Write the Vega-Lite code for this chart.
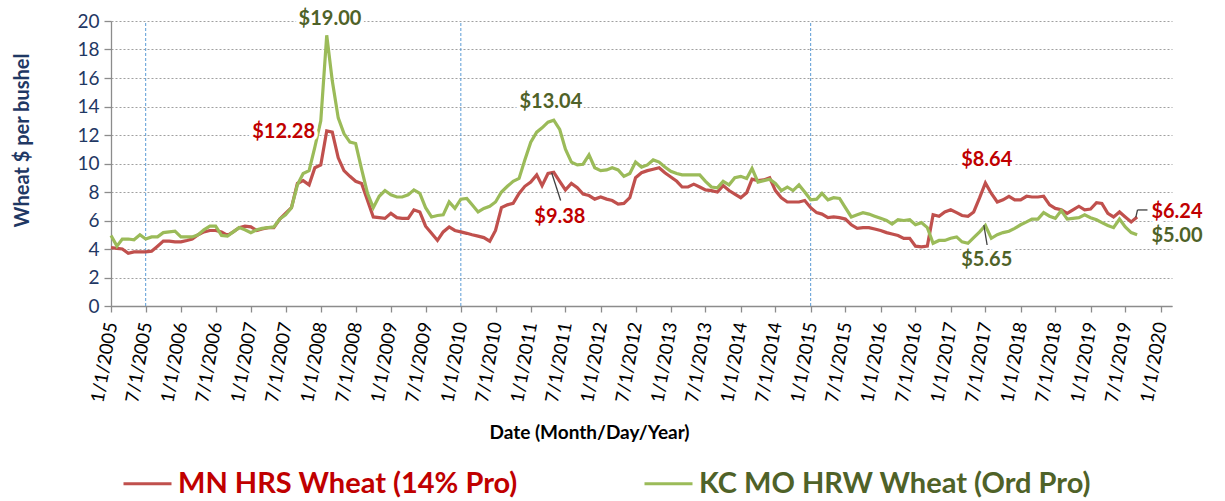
{
  "$schema": "https://vega.github.io/schema/vega-lite/v6.json",
  "width": 1061,
  "height": 285,
  "autosize": {"type": "none"},
  "padding": {"left": 111, "top": 21, "right": 53, "bottom": 195},
  "background": "white",
  "config": {
    "view": {"stroke": null},
    "font": "Lato"
  },
  "datasets": {
    "prices": [
      {"date":"2005-01-01","MN":4.1,"KC":4.95},{"date":"2005-02-01","MN":4.05,"KC":4.2},{"date":"2005-03-01","MN":4.0,"KC":4.7},{"date":"2005-04-01","MN":3.7,"KC":4.7},{"date":"2005-05-01","MN":3.8,"KC":4.65},{"date":"2005-06-01","MN":3.8,"KC":5.0},{"date":"2005-07-01","MN":3.8,"KC":4.7},{"date":"2005-08-01","MN":3.85,"KC":4.85},{"date":"2005-09-01","MN":4.2,"KC":4.85},{"date":"2005-10-01","MN":4.55,"KC":5.15},{"date":"2005-11-01","MN":4.55,"KC":5.2},{"date":"2005-12-01","MN":4.5,"KC":5.25},
      {"date":"2006-01-01","MN":4.5,"KC":4.85},{"date":"2006-02-01","MN":4.6,"KC":4.85},{"date":"2006-03-01","MN":4.7,"KC":4.85},{"date":"2006-04-01","MN":5.0,"KC":5.0},{"date":"2006-05-01","MN":5.2,"KC":5.35},{"date":"2006-06-01","MN":5.3,"KC":5.6},{"date":"2006-07-01","MN":5.3,"KC":5.6},{"date":"2006-08-01","MN":5.2,"KC":4.95},{"date":"2006-09-01","MN":4.95,"KC":4.9},{"date":"2006-10-01","MN":5.2,"KC":5.2},{"date":"2006-11-01","MN":5.5,"KC":5.5},{"date":"2006-12-01","MN":5.6,"KC":5.35},
      {"date":"2007-01-01","MN":5.55,"KC":5.15},{"date":"2007-02-01","MN":5.3,"KC":5.35},{"date":"2007-03-01","MN":5.4,"KC":5.45},{"date":"2007-04-01","MN":5.5,"KC":5.5},{"date":"2007-05-01","MN":5.5,"KC":5.55},{"date":"2007-06-01","MN":6.1,"KC":6.1},{"date":"2007-07-01","MN":6.5,"KC":6.4},{"date":"2007-08-01","MN":6.9,"KC":6.9},{"date":"2007-09-01","MN":8.6,"KC":8.5},{"date":"2007-10-01","MN":8.8,"KC":9.3},{"date":"2007-11-01","MN":8.5,"KC":9.5},{"date":"2007-12-01","MN":9.7,"KC":11.15},
      {"date":"2008-01-01","MN":9.9,"KC":13.0},{"date":"2008-02-01","MN":12.28,"KC":19.0},{"date":"2008-03-01","MN":12.2,"KC":15.8},{"date":"2008-04-01","MN":10.4,"KC":13.2},{"date":"2008-05-01","MN":9.5,"KC":12.1},{"date":"2008-06-01","MN":9.1,"KC":11.5},{"date":"2008-07-01","MN":8.75,"KC":11.4},{"date":"2008-08-01","MN":8.6,"KC":9.6},{"date":"2008-09-01","MN":7.4,"KC":7.9},{"date":"2008-10-01","MN":6.25,"KC":6.9},{"date":"2008-11-01","MN":6.2,"KC":7.7},{"date":"2008-12-01","MN":6.15,"KC":8.1},
      {"date":"2009-01-01","MN":6.5,"KC":7.8},{"date":"2009-02-01","MN":6.2,"KC":7.65},{"date":"2009-03-01","MN":6.15,"KC":7.65},{"date":"2009-04-01","MN":6.15,"KC":7.8},{"date":"2009-05-01","MN":6.75,"KC":8.15},{"date":"2009-06-01","MN":6.6,"KC":7.9},{"date":"2009-07-01","MN":5.6,"KC":6.9},{"date":"2009-08-01","MN":5.1,"KC":6.25},{"date":"2009-09-01","MN":4.6,"KC":6.35},{"date":"2009-10-01","MN":5.2,"KC":6.4},{"date":"2009-11-01","MN":5.55,"KC":7.3},{"date":"2009-12-01","MN":5.3,"KC":6.85},
      {"date":"2010-01-01","MN":5.2,"KC":7.5},{"date":"2010-02-01","MN":5.1,"KC":7.55},{"date":"2010-03-01","MN":5.0,"KC":7.1},{"date":"2010-04-01","MN":4.9,"KC":6.6},{"date":"2010-05-01","MN":4.8,"KC":6.85},{"date":"2010-06-01","MN":4.55,"KC":7.0},{"date":"2010-07-01","MN":5.3,"KC":7.3},{"date":"2010-08-01","MN":6.9,"KC":8.0},{"date":"2010-09-01","MN":7.1,"KC":8.4},{"date":"2010-10-01","MN":7.2,"KC":8.75},{"date":"2010-11-01","MN":7.9,"KC":8.95},{"date":"2010-12-01","MN":8.4,"KC":10.25},
      {"date":"2011-01-01","MN":8.7,"KC":11.5},{"date":"2011-02-01","MN":9.2,"KC":12.2},{"date":"2011-03-01","MN":8.45,"KC":12.5},{"date":"2011-04-01","MN":9.3,"KC":12.9},{"date":"2011-05-01","MN":9.38,"KC":13.04},{"date":"2011-06-01","MN":8.75,"KC":12.4},{"date":"2011-07-01","MN":8.15,"KC":11.0},{"date":"2011-08-01","MN":8.6,"KC":10.1},{"date":"2011-09-01","MN":8.3,"KC":9.9},{"date":"2011-10-01","MN":7.85,"KC":9.95},{"date":"2011-11-01","MN":7.75,"KC":10.6},{"date":"2011-12-01","MN":7.5,"KC":9.7},
      {"date":"2012-01-01","MN":7.65,"KC":9.5},{"date":"2012-02-01","MN":7.5,"KC":9.55},{"date":"2012-03-01","MN":7.4,"KC":9.7},{"date":"2012-04-01","MN":7.15,"KC":9.55},{"date":"2012-05-01","MN":7.2,"KC":9.1},{"date":"2012-06-01","MN":7.6,"KC":9.3},{"date":"2012-07-01","MN":9.0,"KC":10.1},{"date":"2012-08-01","MN":9.35,"KC":9.75},{"date":"2012-09-01","MN":9.5,"KC":9.9},{"date":"2012-10-01","MN":9.6,"KC":10.25},{"date":"2012-11-01","MN":9.7,"KC":10.1},{"date":"2012-12-01","MN":9.35,"KC":9.75},
      {"date":"2013-01-01","MN":9.05,"KC":9.45},{"date":"2013-02-01","MN":8.75,"KC":9.3},{"date":"2013-03-01","MN":8.35,"KC":9.2},{"date":"2013-04-01","MN":8.35,"KC":9.2},{"date":"2013-05-01","MN":8.55,"KC":9.2},{"date":"2013-06-01","MN":8.35,"KC":9.2},{"date":"2013-07-01","MN":8.15,"KC":8.75},{"date":"2013-08-01","MN":8.1,"KC":8.35},{"date":"2013-09-01","MN":8.0,"KC":8.3},{"date":"2013-10-01","MN":8.45,"KC":8.75},{"date":"2013-11-01","MN":8.1,"KC":8.5},{"date":"2013-12-01","MN":7.85,"KC":9.0},
      {"date":"2014-01-01","MN":7.6,"KC":9.1},{"date":"2014-02-01","MN":7.95,"KC":8.95},{"date":"2014-03-01","MN":8.9,"KC":9.65},{"date":"2014-04-01","MN":8.8,"KC":8.7},{"date":"2014-05-01","MN":8.85,"KC":8.8},{"date":"2014-06-01","MN":9.0,"KC":8.9},{"date":"2014-07-01","MN":8.1,"KC":8.6},{"date":"2014-08-01","MN":7.6,"KC":8.1},{"date":"2014-09-01","MN":7.3,"KC":8.35},{"date":"2014-10-01","MN":7.3,"KC":8.1},{"date":"2014-11-01","MN":7.3,"KC":8.5},{"date":"2014-12-01","MN":7.4,"KC":8.0},
      {"date":"2015-01-01","MN":6.9,"KC":7.45},{"date":"2015-02-01","MN":6.55,"KC":7.5},{"date":"2015-03-01","MN":6.45,"KC":7.9},{"date":"2015-04-01","MN":6.2,"KC":7.45},{"date":"2015-05-01","MN":6.25,"KC":7.6},{"date":"2015-06-01","MN":6.2,"KC":7.55},{"date":"2015-07-01","MN":6.1,"KC":6.9},{"date":"2015-08-01","MN":5.7,"KC":6.25},{"date":"2015-09-01","MN":5.45,"KC":6.4},{"date":"2015-10-01","MN":5.5,"KC":6.55},{"date":"2015-11-01","MN":5.5,"KC":6.45},{"date":"2015-12-01","MN":5.4,"KC":6.3},
      {"date":"2016-01-01","MN":5.3,"KC":6.15},{"date":"2016-02-01","MN":5.15,"KC":6.0},{"date":"2016-03-01","MN":5.05,"KC":5.75},{"date":"2016-04-01","MN":4.95,"KC":6.05},{"date":"2016-05-01","MN":4.75,"KC":6.0},{"date":"2016-06-01","MN":4.75,"KC":6.05},{"date":"2016-07-01","MN":4.2,"KC":5.7},{"date":"2016-08-01","MN":4.15,"KC":5.85},{"date":"2016-09-01","MN":4.2,"KC":5.5},{"date":"2016-10-01","MN":6.4,"KC":4.4},{"date":"2016-11-01","MN":6.3,"KC":4.6},{"date":"2016-12-01","MN":6.6,"KC":4.6},
      {"date":"2017-01-01","MN":6.75,"KC":4.75},{"date":"2017-02-01","MN":6.55,"KC":4.85},{"date":"2017-03-01","MN":6.35,"KC":4.5},{"date":"2017-04-01","MN":6.3,"KC":4.4},{"date":"2017-05-01","MN":6.6,"KC":4.8},{"date":"2017-06-01","MN":7.6,"KC":5.2},{"date":"2017-07-01","MN":8.64,"KC":5.65},{"date":"2017-08-01","MN":7.9,"KC":4.75},{"date":"2017-09-01","MN":7.3,"KC":5.0},{"date":"2017-10-01","MN":7.45,"KC":5.15},{"date":"2017-11-01","MN":7.7,"KC":5.25},{"date":"2017-12-01","MN":7.45,"KC":5.45},
      {"date":"2018-01-01","MN":7.45,"KC":5.7},{"date":"2018-02-01","MN":7.7,"KC":5.9},{"date":"2018-03-01","MN":7.65,"KC":6.1},{"date":"2018-04-01","MN":7.65,"KC":6.1},{"date":"2018-05-01","MN":7.7,"KC":6.55},{"date":"2018-06-01","MN":7.1,"KC":6.3},{"date":"2018-07-01","MN":6.85,"KC":6.15},{"date":"2018-08-01","MN":6.75,"KC":6.7},{"date":"2018-09-01","MN":6.5,"KC":6.1},{"date":"2018-10-01","MN":6.75,"KC":6.15},{"date":"2018-11-01","MN":7.0,"KC":6.2},{"date":"2018-12-01","MN":6.75,"KC":6.4},
      {"date":"2019-01-01","MN":6.8,"KC":6.2},{"date":"2019-02-01","MN":7.25,"KC":6.05},{"date":"2019-03-01","MN":7.2,"KC":5.85},{"date":"2019-04-01","MN":6.5,"KC":5.65},{"date":"2019-05-01","MN":6.25,"KC":5.5},{"date":"2019-06-01","MN":6.6,"KC":6.1},{"date":"2019-07-01","MN":6.25,"KC":5.55},{"date":"2019-08-01","MN":5.9,"KC":5.15},{"date":"2019-09-01","MN":6.24,"KC":5.0}
    ],
    "labels": [
      {"date":"2008-02-18","price":20.14,"label":"$19.00","s":"KC"},
      {"date":"2007-06-21","price":12.23,"label":"$12.28","s":"MN"},
      {"date":"2011-04-16","price":14.34,"label":"$13.04","s":"KC"},
      {"date":"2011-06-02","price":6.27,"label":"$9.38","s":"MN"},
      {"date":"2017-07-08","price":10.25,"label":"$8.64","s":"MN"},
      {"date":"2017-07-08","price":3.23,"label":"$5.65","s":"KC"},
      {"date":"2020-03-27","price":6.62,"label":"$6.24","s":"MN"},
      {"date":"2020-03-27","price":4.91,"label":"$5.00","s":"KC"}
    ],
    "leaders": [
      {"date":"2011-04-20","price":9.35,"date2":"2011-06-06","price2":7.4},
      {"date":"2017-06-23","price":5.68,"date2":"2017-07-10","price2":4.28},
      {"date":"2019-08-25","price":6.22,"date2":"2019-09-03","price2":6.74},
      {"date":"2019-09-03","price":6.74,"date2":"2019-10-25","price2":6.74}
    ],
    "vlines": [
      {"date":"2005-07-01","price":0,"price2":20},
      {"date":"2010-01-01","price":0,"price2":20},
      {"date":"2015-01-01","price":0,"price2":20}
    ]
  },
  "encoding": {
    "x": {
      "field": "date", "type": "temporal",
      "scale": {"type": "utc", "domain": [{"year":2005,"month":1,"date":1,"utc":true},{"year":2020,"month":3,"date":1,"utc":true}]},
      "axis": {
        "title": "Date (Month/Day/Year)",
        "titleFont": "Lato", "titleFontSize": 19, "titleFontWeight": "bold", "titleColor": "#000000",
        "titleX": 478, "titleY": 126, "titleAlign": "center", "titleBaseline": "middle",
        "values": [
          {"year":2005,"month":1,"date":1,"utc":true},{"year":2005,"month":7,"date":1,"utc":true},
          {"year":2006,"month":1,"date":1,"utc":true},{"year":2006,"month":7,"date":1,"utc":true},
          {"year":2007,"month":1,"date":1,"utc":true},{"year":2007,"month":7,"date":1,"utc":true},
          {"year":2008,"month":1,"date":1,"utc":true},{"year":2008,"month":7,"date":1,"utc":true},
          {"year":2009,"month":1,"date":1,"utc":true},{"year":2009,"month":7,"date":1,"utc":true},
          {"year":2010,"month":1,"date":1,"utc":true},{"year":2010,"month":7,"date":1,"utc":true},
          {"year":2011,"month":1,"date":1,"utc":true},{"year":2011,"month":7,"date":1,"utc":true},
          {"year":2012,"month":1,"date":1,"utc":true},{"year":2012,"month":7,"date":1,"utc":true},
          {"year":2013,"month":1,"date":1,"utc":true},{"year":2013,"month":7,"date":1,"utc":true},
          {"year":2014,"month":1,"date":1,"utc":true},{"year":2014,"month":7,"date":1,"utc":true},
          {"year":2015,"month":1,"date":1,"utc":true},{"year":2015,"month":7,"date":1,"utc":true},
          {"year":2016,"month":1,"date":1,"utc":true},{"year":2016,"month":7,"date":1,"utc":true},
          {"year":2017,"month":1,"date":1,"utc":true},{"year":2017,"month":7,"date":1,"utc":true},
          {"year":2018,"month":1,"date":1,"utc":true},{"year":2018,"month":7,"date":1,"utc":true},
          {"year":2019,"month":1,"date":1,"utc":true},{"year":2019,"month":7,"date":1,"utc":true},
          {"year":2020,"month":1,"date":1,"utc":true}
        ],
        "labelExpr": "utcFormat(datum.value, '%-m/%-d/%Y')",
        "labelAngle": -80, "labelAlign": "right", "labelBaseline": "middle",
        "labelFont": "Lato", "labelFontSize": 18.5, "labelColor": "#000000", "labelPadding": 10,
        "labelOverlap": false, "labelFlush": false, "labelBound": false,
        "domainColor": "#8c8c8c", "domainWidth": 1.3,
        "tickColor": "#8c8c8c", "tickSize": 6, "tickWidth": 1.3,
        "grid": false
      }
    },
    "y": {
      "field": "price", "type": "quantitative",
      "scale": {"domain": [0, 20], "nice": false, "zero": true},
      "axis": {
        "title": "Wheat $ per bushel",
        "titleFont": "Lato", "titleFontSize": 20, "titleFontWeight": "bold", "titleColor": "#1f3864",
        "titleX": -89, "titleY": 119, "titleAngle": 270, "titleAlign": "center", "titleBaseline": "middle",
        "values": [0, 2, 4, 6, 8, 10, 12, 14, 16, 18, 20],
        "labelFont": "Lato", "labelFontSize": 19, "labelColor": "#1f3864", "labelPadding": 5,
        "labelOverlap": false,
        "domainColor": "#8c8c8c", "domainWidth": 1.3,
        "tickColor": "#8c8c8c", "tickSize": 7, "tickWidth": 1.3,
        "grid": true, "gridColor": "#a0a0a0", "gridDash": [2, 2], "gridWidth": 1
      }
    }
  },
  "layer": [
    {
      "data": {"name": "vlines"},
      "mark": {"type": "rule", "color": "#5b9bd5", "strokeWidth": 1, "strokeDash": [3, 2]},
      "encoding": {"y2": {"field": "price2"}}
    },
    {
      "data": {"name": "prices"},
      "transform": [{"fold": ["MN", "KC"], "as": ["series", "price"]}],
      "mark": {"type": "line", "strokeWidth": 3.2},
      "encoding": {
        "color": {
          "field": "series", "type": "nominal",
          "scale": {"domain": ["MN", "KC"], "range": ["#c0504d", "#9bbb59"]},
          "legend": {
            "orient": "none", "legendX": 11, "legendY": 437,
            "direction": "horizontal", "columns": 2, "columnPadding": 120,
            "title": null, "padding": 0,
            "symbolType": "stroke", "symbolSize": 2304, "symbolStrokeWidth": 3,
            "labelFont": "Lato", "labelFontSize": 29, "labelFontWeight": "bold", "labelOffset": 5, "labelLimit": 0,
            "labelExpr": "datum.label == 'MN' ? 'MN HRS Wheat (14% Pro)' : 'KC MO HRW Wheat (Ord Pro)'",
            "encode": {"labels": {"update": {"fill": {"signal": "datum.value == 'MN' ? '#c00000' : '#4f6228'"}}}}
          }
        }
      }
    },
    {
      "data": {"name": "leaders"},
      "mark": {"type": "rule", "color": "#404040", "strokeWidth": 1.3},
      "encoding": {
        "x2": {"field": "date2"},
        "y2": {"field": "price2"}
      }
    },
    {
      "data": {"name": "labels"},
      "mark": {"type": "text", "font": "Lato", "fontSize": 20, "fontWeight": "bold", "align": "center", "baseline": "middle", "stroke": "white", "strokeWidth": 7, "fill": "white"},
      "encoding": {"text": {"field": "label"}}
    },
    {
      "data": {"name": "labels"},
      "transform": [{"filter": "datum.s == 'MN'"}],
      "mark": {"type": "text", "font": "Lato", "fontSize": 20, "fontWeight": "bold", "align": "center", "baseline": "middle", "color": "#c00000"},
      "encoding": {"text": {"field": "label"}}
    },
    {
      "data": {"name": "labels"},
      "transform": [{"filter": "datum.s == 'KC'"}],
      "mark": {"type": "text", "font": "Lato", "fontSize": 20, "fontWeight": "bold", "align": "center", "baseline": "middle", "color": "#4f6228"},
      "encoding": {"text": {"field": "label"}}
    }
  ]
}
